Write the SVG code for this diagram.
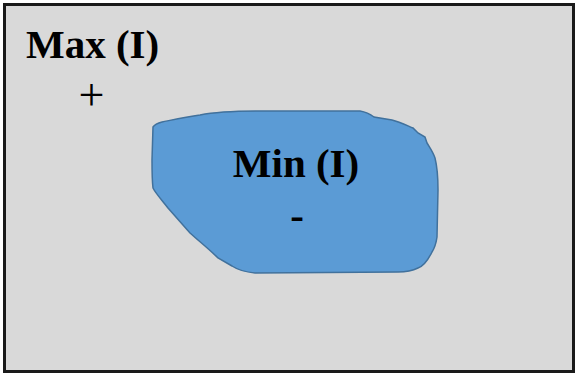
<svg xmlns="http://www.w3.org/2000/svg" width="575" height="374" viewBox="0 0 575 374">
<style>
.lbl{font-family:"Liberation Serif","Times New Roman",serif;font-weight:bold;font-size:41px;fill:#000}
.sym{font-family:"Liberation Serif","Times New Roman",serif;font-size:46px;fill:#000}
</style>
<rect x="0" y="0" width="575" height="374" fill="#ffffff"/>
<g id="frame">
<rect x="4.5" y="4.5" width="569" height="367" fill="#d9d9d9" stroke="#1a1a1a" stroke-width="3"/>
</g>
<g id="max">
<text class="lbl" x="26" y="58">Max (I)</text>
<text class="sym" x="91.5" y="110" text-anchor="middle">+</text>
</g>
<g id="min">
<path d="M153,127 C155,124 158,123 162,122 C172,120 185,117 200,115 C215,112 230,111 260,111 L360,111 C366,112 370,114 374,117 L392,120 C400,122 408,126 413,128 L418,133 L425,137 L427,143 C430,148 433,152 435,158 C437,166 438,178 438,190 L437,237 C436,244 434,249 432,252 C428,260 424,266 418,268 C412,271 405,272 398,272 L255,273 C245,272 238,270 232,266 L218,258 C210,250 200,242 190,233 L168,208 C162,200 156,194 153,188 C152,180 152,170 152,160 Z" fill="#5b9bd5" stroke="#41719c" stroke-width="1.5"/>
<text class="lbl" x="296" y="177" text-anchor="middle">Min (I)</text>
<text class="lbl" x="297" y="229" text-anchor="middle">-</text>
</g>
</svg>
